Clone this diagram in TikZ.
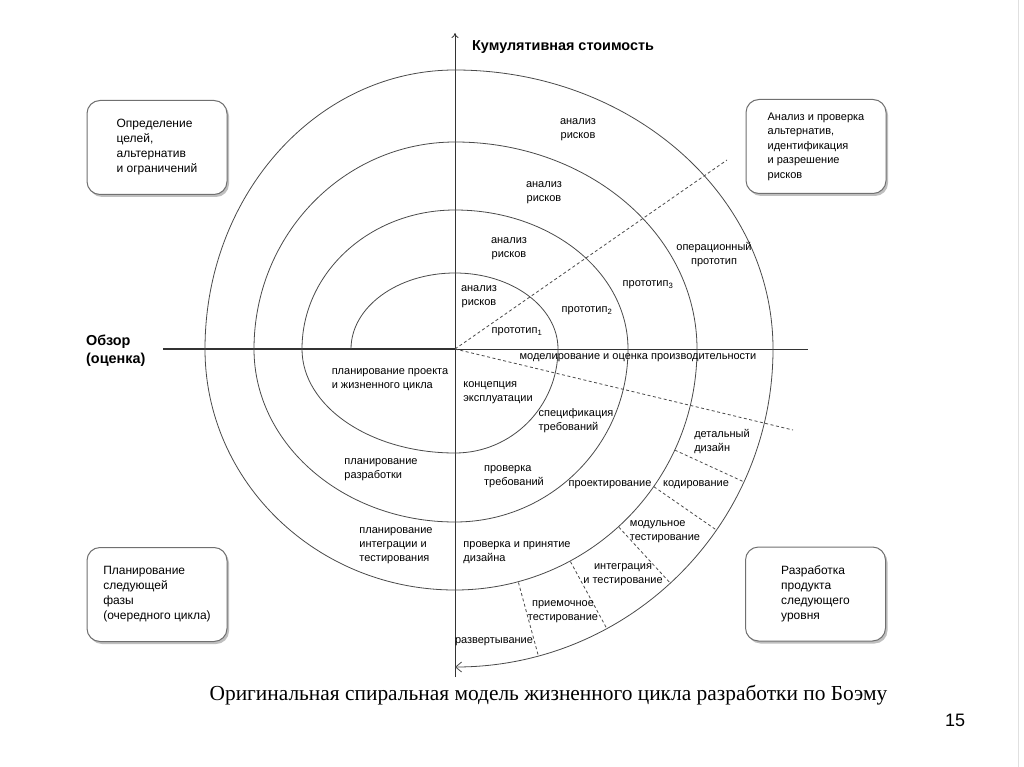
\documentclass[tikz,border=0pt]{standalone}
\usepackage{fontspec}
\setmainfont{Liberation Sans}
\newfontfamily\capfont{Liberation Serif}
\usetikzlibrary{arrows.meta,calc,shadows}
\definecolor{sline}{HTML}{4A4A4A}
\definecolor{sbox}{HTML}{707070}
\tikzset{
  phase/.style={draw=sbox,fill=white,rounded corners=13pt,line width=1pt,align=left,minimum width=140pt,minimum height=94pt,font=\fontsize{12}{15}\selectfont,drop shadow={shadow xshift=2pt,shadow yshift=-2.5pt,fill=black!50}},
  lbl/.style={font=\fontsize{11}{14}\selectfont,inner sep=0pt},
  lbll/.style={lbl,align=left},
  lblc/.style={lbl,align=center},
  axlbl/.style={font=\bfseries\fontsize{14.4}{18}\selectfont,align=left,inner sep=0pt,anchor=west},
  spir/.style={draw=sline,line width=0.8pt},
  dline/.style={draw=sline,line width=0.8pt,dash pattern=on 3pt off 2.5pt},
  ax/.style={draw=black!80,line width=0.8pt},
}
\begin{document}
\begin{tikzpicture}[x=1pt,y=-1pt]
  \useasboundingbox (0,0) rectangle (1024,767);
  \fill[white] (0,0) rectangle (1024,767);
  \draw[black!12] (1018,0) -- (1018,767);
  \coordinate (c) at (455,349);
  \coordinate (top) at (455,33);
  \coordinate (bot) at (455,677);
  \coordinate (obz) at (163,349);
  \coordinate (rgt) at (808,349);
  \coordinate (s0) at (351,349);
  \draw[ax,-{To[length=5pt,width=7pt]}] (bot) -- (top);
  \draw[ax,line width=2pt] (obz) -- (c);
  \draw[ax] (c) -- (rgt);
  \draw[spir,-{Straight Barb[length=6pt,width=10pt]}] (s0)
    \foreach \a/\rx/\ry in {180/104/76,90/103/76,0/103/104,-90/153/104,
      180/153/139,90/173/139,0/173/173,-90/201/173,
      180/201/207,90/242/207,0/242/241,-90/250/241,
      180/250/279,90/318/279,0/318/318} {arc (\a:\a-90:\rx pt and \ry pt)};
  \draw[dline] (c) -- (727,160);
  \draw[dline] (c) -- (793,430);
  \foreach \t in {-24.7,-34.7,-47.4,-61.5,-74.8}
    \draw[dline] ($(c)+(\t:242pt)$) -- ($(c)+(\t:318pt)$);

  \node[axlbl] (cost) at (472,47) {Кумулятивная стоимость};
  \node[axlbl] (obzor) at (86,351) {Обзор\\(оценка)};

  \node[phase] (goals) at (157,147.5) {Определение\\целей,\\альтернатив\\и ограничений};
  \node[phase,font=\fontsize{11}{14.5}\selectfont] (alts) at (816,146.5) {Анализ и проверка\\альтернатив,\\идентификация\\и разрешение\\рисков};
  \node[phase] (plan) at (157,594.5) {Планирование\\следующей\\фазы\\(очередного цикла)};
  \node[phase] (dev) at (815.5,594) {Разработка\\продукта\\следующего\\уровня};

  \foreach \p [count=\i] in {(479,297),(509,249),(544,193),(578,130)}
    \node[lblc] (ar\i) at \p {анализ\\рисков};
  \foreach \p/\s [count=\i] in {(517,332)/1,(587,311)/2,(648,285)/3}
    \node[lbl] (pt\i) at \p {прототип\textsubscript{\s}};
  \node[lblc] (optp) at (714,255) {операционный\\прототип};
  \node[lbl] (model) at (638,358) {моделирование и оценка производительности};

  \node[lbll] (konc) at (498,393) {концепция\\эксплуатации};
  \node[lbll] (spec) at (576,421) {спецификация\\требований};
  \node[lbll] (provtr) at (514,477) {проверка\\требований};
  \node[lbl] (proekt) at (610,485) {проектирование};
  \node[lbll] (detal) at (722,442) {детальный\\дизайн};
  \node[lbl] (kod) at (696,485) {кодирование};
  \node[lbll] (modul) at (665,532) {модульное\\тестирование};
  \node[lbll] (provpr) at (517,553) {проверка и принятие\\дизайна};
  \node[lblc] (integr) at (623,575) {интеграция\\и тестирование};
  \node[lblc] (priem) at (563,612) {приемочное\\тестирование};
  \node[lbl] (razv) at (494,642) {развертывание};

  \node[lbll] (plpr) at (390,380) {планирование проекта\\и жизненного цикла};
  \node[lbll] (plrazr) at (381,470) {планирование\\разработки};
  \node[lbll] (plint) at (396,546) {планирование\\интеграции и\\тестирования};

  \node[font=\capfont\fontsize{21.4}{26}\selectfont,inner sep=0pt] (title) at (548.5,695) {Оригинальная спиральная модель жизненного цикла разработки по Боэму};
  \node[font=\fontsize{18}{22}\selectfont,inner sep=0pt] (pg) at (955,720) {15};
\end{tikzpicture}
\end{document}
